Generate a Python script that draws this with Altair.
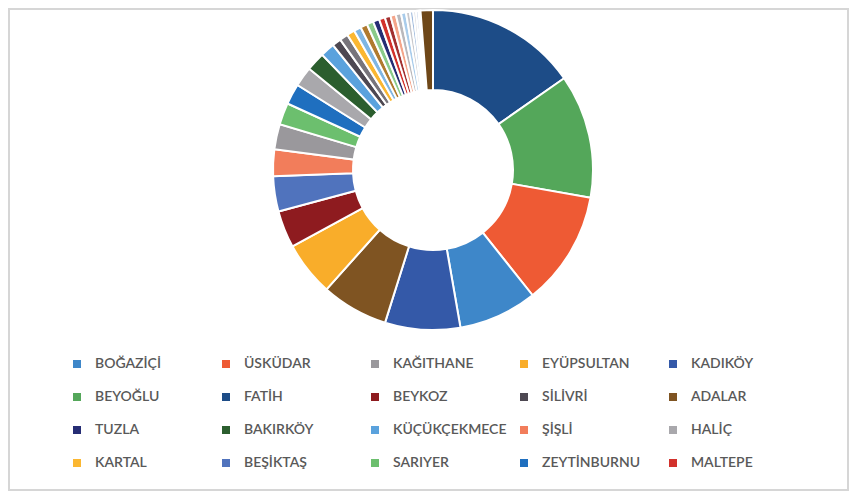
import altair as alt
import pandas as pd

# Slices in clockwise order from the top (share in %)
names = ["FATİH", "BEYOĞLU", "ÜSKÜDAR", "BOĞAZİÇİ", "KADIKÖY", "ADALAR", "EYÜPSULTAN",
         "BEYKOZ", "BEŞİKTAŞ", "ŞİŞLİ", "KAĞITHANE", "SARIYER", "ZEYTİNBURNU", "HALİÇ",
         "BAKIRKÖY", "KÜÇÜKÇEKMECE", "SİLİVRİ", "X1", "KARTAL", "X2", "X3", "X4",
         "TUZLA", "MALTEPE", "X5", "X6", "X7", "X8", "X9", "X10", "X11", "X12", "X13", "X14"]
values = [15.3, 12.5, 11.55, 7.95, 7.6, 6.75, 5.5,
          3.75, 3.55, 2.7, 2.55, 2.2, 2.1, 2.0,
          1.9, 1.45, 0.9, 0.85, 0.8, 0.72, 0.7, 0.67,
          0.64, 0.6, 0.58, 0.55, 0.53, 0.5, 0.4, 0.33, 0.28, 0.25, 0.2, 1.25]

# Legend order (as shown in the legend, row by row)
legend_names = ["BOĞAZİÇİ", "ÜSKÜDAR", "KAĞITHANE", "EYÜPSULTAN", "KADIKÖY",
                "BEYOĞLU", "FATİH", "BEYKOZ", "SİLİVRİ", "ADALAR",
                "TUZLA", "BAKIRKÖY", "KÜÇÜKÇEKMECE", "ŞİŞLİ", "HALİÇ",
                "KARTAL", "BEŞİKTAŞ", "SARIYER", "ZEYTİNBURNU", "MALTEPE"]
legend_colors = ["#3E87C9", "#EE5A34", "#9A989C", "#F9AD2A", "#3459A8",
                 "#54A75A", "#1D4C87", "#8E1B1F", "#4D4852", "#7F5422",
                 "#262D74", "#2B5E2E", "#5AA2DD", "#F27D5B", "#A9A8AC",
                 "#FBB731", "#5073BD", "#6CBF6E", "#1F6FBF", "#D2312C"]
extra_names = ["X1", "X2", "X3", "X4", "X5", "X6", "X7", "X8", "X9", "X10", "X11", "X12", "X13", "X14"]
extra_colors = ["#77747B", "#7FB6E3", "#B07A2E", "#8BCB8A", "#A23030", "#F4A58A", "#B9B8BC",
                "#A9CCEB", "#C8C8CC", "#9EB9DC", "#D8D8DC", "#B8C8E4", "#E4E4E8", "#6E4718"]

n_rows, n_cols = 4, 5
# the legend grid fills column by column, so reorder to read row by row
legend_values = [legend_names[r * n_cols + c] for c in range(n_cols) for r in range(n_rows)]

df = pd.DataFrame({"name": names, "value": values, "rank": list(range(len(names)))})

donut = alt.Chart(df).mark_arc(
    innerRadius=80, outerRadius=160, x=425, y=162, stroke="white", strokeWidth=2
).encode(
    theta=alt.Theta("value:Q", stack=True),
    order=alt.Order("rank:Q", sort="ascending"),
    color=alt.Color(
        "name:N",
        scale=alt.Scale(domain=legend_names + extra_names, range=legend_colors + extra_colors),
        legend=alt.Legend(
            values=legend_values, title=None, orient="none", legendX=62, legendY=349,
            columns=5, gridAlign="all", columnPadding=10, rowPadding=19,
            symbolType="square", symbolSize=64, symbolStrokeWidth=0,
            labelFont="Lato", labelFontSize=14, labelFontWeight=600,
            labelColor="#595959", labelOffset=11, labelLimit=200,
        ),
    ),
)

frame = alt.Chart(df).mark_rect(fill=None, stroke="#d6d6d6", strokeWidth=2).encode(
    x=alt.value(1), x2=alt.value(840), y=alt.value(1), y2=alt.value(482)
)

chart = alt.layer(frame, donut).properties(
    width=841, height=483, autosize=alt.AutoSizeParams(type="none"), padding=0
).configure_view(stroke=None)

chart.save("out.html", embed_options={"renderer": "svg", "actions": False})
